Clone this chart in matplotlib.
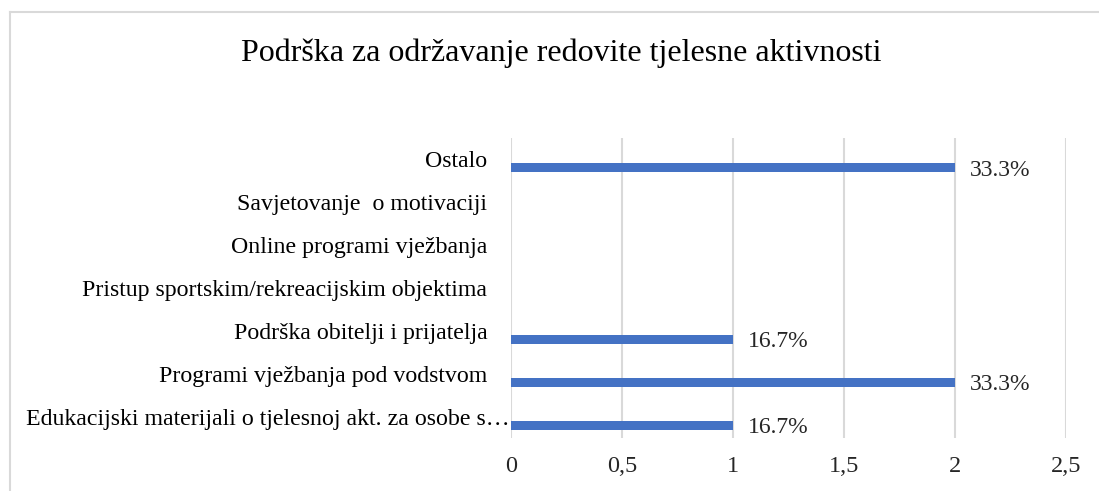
import numpy as np
import matplotlib.pyplot as plt
import matplotlib.transforms as mtransforms
from matplotlib.lines import Line2D

plt.rcParams['font.family'] = ['Liberation Serif', 'DejaVu Serif']

title = "Podrška za održavanje redovite tjelesne aktivnosti"
categories = [
    "Ostalo",
    "Savjetovanje  o motivaciji",
    "Online programi vježbanja",
    "Pristup sportskim/rekreacijskim objektima",
    "Podrška obitelji i prijatelja",
    "Programi vježbanja pod vodstvom",
    "Edukacijski materijali o tjelesnoj akt. za osobe s\u2026",
]
counts = [2, 0, 0, 0, 1, 2, 1]
pct_labels = ["33.3%", "", "", "", "16.7%", "33.3%", "16.7%"]
xticks = [0, 0.5, 1, 1.5, 2, 2.5]
xtick_labels = ["0", "0,5", "1", "1,5", "2", "2,5"]

W, H = 1099, 491
fig = plt.figure(figsize=(W / 100, H / 100), dpi=100)

# chart area border: only the top and left edges are inside the crop
bx, by = 9.5 / W, 1 - 11.5 / H
fig.lines.append(Line2D([bx, bx], [0, by], transform=fig.transFigure,
                        color='#D9D9D9', linewidth=1.5))
fig.lines.append(Line2D([bx, 1], [by, by], transform=fig.transFigure,
                        color='#D9D9D9', linewidth=1.5))

ax = fig.add_axes([511 / W, 1 - 438 / H, (1066 - 511) / W, 300 / H])

pos = np.arange(len(categories))
bar_off = 0.2  # series sits a bit below the category centre
bars = ax.barh(pos + bar_off, counts, height=0.21, color='#4472C4', zorder=3)

for b, lab in zip(bars, pct_labels):
    if lab:
        ax.text(b.get_width() + 0.065, b.get_y() + b.get_height() / 2 + 0.05, lab,
                va='center', ha='left', fontsize=17, color='#262626')

ax.set_xlim(0, 2.5)
ax.set_ylim(len(categories) - 0.5, -0.5)
ax.set_xticks(xticks)
ax.set_xticklabels(xtick_labels)
ax.set_yticks(pos)
ax.set_yticklabels(categories)
ax.tick_params(axis='x', length=0, pad=13, labelsize=17.5, colors='#262626')
ax.tick_params(axis='y', length=0, pad=17, labelsize=17.2, colors='black')
ax.grid(axis='x', color='#D9D9D9', linewidth=1.5, zorder=0)
for s in ax.spines.values():
    s.set_visible(False)

# the truncated label runs right up to the axis in the original
last = ax.get_yticklabels()[-1]
last.set_transform(last.get_transform() +
                   mtransforms.ScaledTranslation(0.22, 0, fig.dpi_scale_trans))

fig.text(561 / W, 1 - 53 / H, title, ha='center', va='center', fontsize=23)

fig.savefig('out.png', dpi=100)
